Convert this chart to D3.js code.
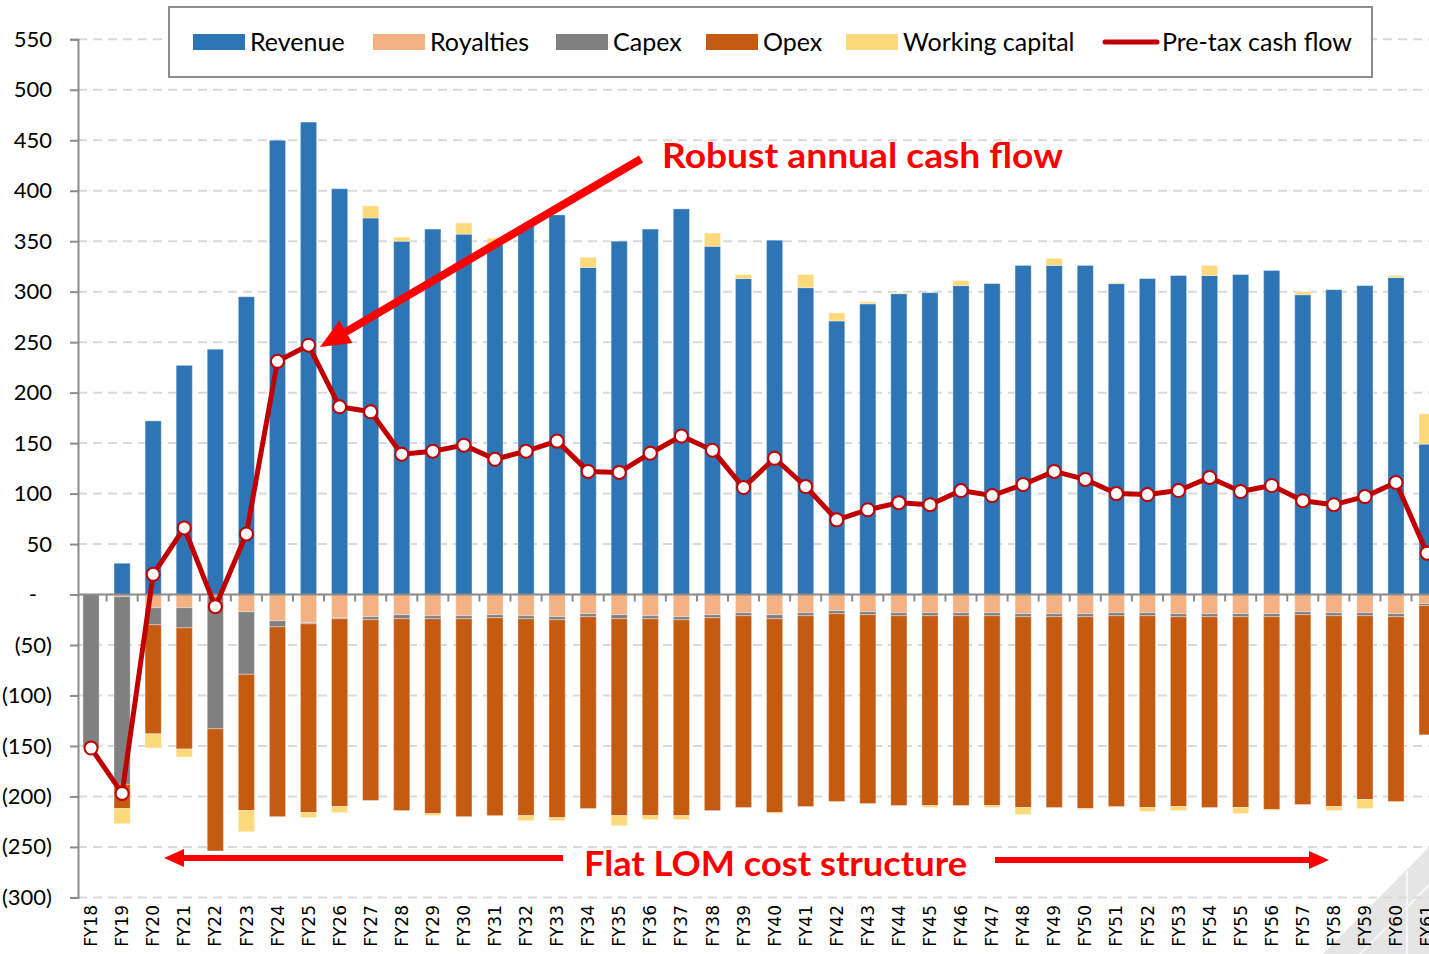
<!DOCTYPE html>
<html>
<head>
<meta charset="utf-8">
<script src="https://cdn.jsdelivr.net/npm/d3@7"></script>
<style>
  html, body { margin: 0; padding: 0; background: #fff; overflow: hidden; }
</style>
</head>
<body>
<svg id="chart" width="1429" height="954"></svg>
<script>
const years = d3.range(18, 62).map((d) => "FY" + d);

const revenue = [0, 31, 172, 227, 243, 295, 450, 468, 402, 373, 350, 362, 357, 347, 365, 376,
  324, 350, 362, 382, 345, 313, 351, 304, 271, 288, 298, 299, 306, 308, 326, 326, 326, 308,
  313, 316, 316, 317, 321, 297, 302, 306, 314, 149];
const royalties = [0, -2, -13, -13, -2, -17, -26, -28, -23, -22, -20, -21, -21, -20, -21, -22,
  -19, -20, -21, -22, -20, -18, -20, -18, -16, -17, -18, -18, -18, -18, -19, -19, -19, -18,
  -18, -19, -19, -19, -19, -17, -18, -18, -19, -9];
const capex = [-152, -186, -17, -20, -131, -62, -6, -1, -1, -3, -4, -3, -3, -3, -3, -3,
  -3, -4, -3, -3, -3, -3, -4, -3, -3, -3, -3, -3, -3, -3, -3, -3, -3, -3,
  -3, -3, -3, -3, -3, -3, -3, -3, -3, -2];
const opex = [0, -24, -108, -120, -121, -135, -188, -187, -186, -179, -190, -193, -196, -196, -195, -196,
  -190, -195, -195, -194, -191, -190, -192, -189, -186, -187, -188, -188, -188, -188, -189, -189, -190, -189,
  -190, -188, -189, -189, -191, -188, -189, -182, -183, -128];
const workingCapital = [0, -15, -14, -8, 0, -21, 0, -5, -6, 12, 4, -2, 11, 6, -5, -3,
  10, -10, -4, -4, 13, 4, -1, 13, 8, 2, 1, -2, 5, -2, -7, 7, -1, 1,
  -4, -4, 10, -6, -1, 3, -4, -9, 2, 30];
const cashFlow = [-152, -197, 20, 66, -12, 60, 231, 247, 186, 181, 139, 142, 148, 134, 142, 152,
  122, 121, 140, 157, 143, 106, 135, 107, 74, 84, 91, 89, 103, 98, 109, 122, 114, 100,
  99, 103, 116, 102, 108, 93, 89, 97, 111, 41];
const yTicks = d3.range(-300, 551, 50);

const series = [
  { key: "revenue", label: "Revenue", color: "#2E75B6", values: revenue },
  { key: "royalties", label: "Royalties", color: "#F4B183", values: royalties },
  { key: "capex", label: "Capex", color: "#808080", values: capex },
  { key: "opex", label: "Opex", color: "#C55A11", values: opex },
  { key: "wc", label: "Working capital", color: "#FCD97A", values: workingCapital }
];

const rows = years.map((yr, i) => {
  const r = { year: yr };
  series.forEach((s) => (r[s.key] = s.values[i]));
  return r;
});

const svg = d3.select("#chart");
const axisColor = "#8c8c8c";
const calibri = "Lato, 'Open Sans', sans-serif";

const x = d3.scaleBand()
  .domain(years)
  .range([75.5, 1442.6])
  .paddingInner(0.48)
  .paddingOuter(0.24);
const step = x.step();
const y = d3.scaleLinear().domain([-300, 550]).range([897.4, 39.3]);

// watermark corner (under everything)
svg.append("path")
  .attr("d", "M1323,954L1429,847L1429,954Z")
  .attr("fill", "#d4d4d4")
  .attr("opacity", 0.6);
svg.append("path")
  .attr("d", "M1360,954L1429,885M1407,870L1407,954")
  .attr("stroke", "#fff")
  .attr("stroke-width", 2)
  .attr("opacity", 0.7);

// gridlines
svg.append("g")
  .selectAll("line")
  .data(yTicks)
  .join("line")
  .attr("x1", 78)
  .attr("x2", 1429)
  .attr("y1", (d) => y(d))
  .attr("y2", (d) => y(d))
  .attr("stroke", "#d9d9d9")
  .attr("stroke-width", 2)
  .attr("stroke-dasharray", "9,6");

// y axis
const yAxis = d3.axisLeft(y)
  .tickValues(yTicks)
  .tickSize(8)
  .tickPadding(18)
  .tickFormat((d) => (d === 0 ? "-" : d < 0 ? "(" + Math.abs(d) + ")" : d));
const gy = svg.append("g").attr("transform", "translate(78,0)").call(yAxis);
gy.select(".domain").attr("stroke", axisColor).attr("stroke-width", 2);
gy.selectAll(".tick line").attr("stroke", axisColor).attr("stroke-width", 2);
gy.selectAll(".tick text")
  .attr("font-family", calibri)
  .attr("font-size", 22)
  .attr("fill", "#000");
gy.selectAll(".tick text").filter((d) => d === 0).attr("dx", -15);

// stacked bars
const stack = d3.stack()
  .keys(series.map((s) => s.key))
  .offset(d3.stackOffsetDiverging);
const layers = stack(rows);

svg.append("g")
  .selectAll("g")
  .data(layers)
  .join("g")
  .attr("fill", (d, i) => series[i].color)
  .selectAll("rect")
  .data((d) => d)
  .join("rect")
  .attr("x", (d) => x(d.data.year))
  .attr("width", x.bandwidth())
  .attr("y", (d) => y(Math.max(d[0], d[1])))
  .attr("height", (d) => Math.abs(y(d[0]) - y(d[1])))
  .attr("stroke", "rgba(255,255,255,0.35)")
  .attr("stroke-width", 1);

// zero axis with category ticks
const zeroY = y(0);
svg.append("line")
  .attr("x1", 78).attr("x2", 1429)
  .attr("y1", zeroY).attr("y2", zeroY)
  .attr("stroke", axisColor).attr("stroke-width", 2);
svg.append("g")
  .selectAll("line")
  .data(years.slice(1))
  .join("line")
  .attr("x1", (d) => x(d) - (step - x.bandwidth()) / 2)
  .attr("x2", (d) => x(d) - (step - x.bandwidth()) / 2)
  .attr("y1", zeroY)
  .attr("y2", zeroY + 7)
  .attr("stroke", axisColor)
  .attr("stroke-width", 2);

// x labels (rotated)
svg.append("g")
  .selectAll("text")
  .data(years)
  .join("text")
  .attr("transform", (d) => `translate(${x(d) + x.bandwidth() / 2},905) rotate(-90)`)
  .attr("text-anchor", "end")
  .attr("dy", "0.36em")
  .attr("font-family", "'DejaVu Sans', sans-serif")
  .attr("font-size", 17)
  .attr("fill", "#000")
  .text((d) => d);

// cash flow line
const line = d3.line()
  .x((d, i) => x(years[i]) + x.bandwidth() / 2)
  .y((d) => y(d));
svg.append("path")
  .datum(cashFlow)
  .attr("d", line)
  .attr("fill", "none")
  .attr("stroke", "#C00000")
  .attr("stroke-width", 5)
  .attr("stroke-linejoin", "round");
svg.append("g")
  .selectAll("circle")
  .data(cashFlow)
  .join("circle")
  .attr("cx", (d, i) => x(years[i]) + x.bandwidth() / 2)
  .attr("cy", (d) => y(d))
  .attr("r", 6.5)
  .attr("fill", "#fff")
  .attr("stroke", "#C00000")
  .attr("stroke-width", 2);

// annotations
const red = "#FF0000";
function arrow(x1, y1, x2, y2, width, headLen, headWidth) {
  const ang = Math.atan2(y2 - y1, x2 - x1);
  const bx = x2 - headLen * Math.cos(ang);
  const by = y2 - headLen * Math.sin(ang);
  svg.append("line")
    .attr("x1", x1).attr("y1", y1).attr("x2", bx).attr("y2", by)
    .attr("stroke", red).attr("stroke-width", width);
  const px = Math.sin(ang) * headWidth / 2;
  const py = -Math.cos(ang) * headWidth / 2;
  svg.append("path")
    .attr("d", `M${x2},${y2}L${bx + px},${by + py}L${bx - px},${by - py}Z`)
    .attr("fill", red);
}
arrow(641, 159, 320, 347, 8, 30, 26);
arrow(563, 858, 164, 858, 6, 20, 18);
arrow(995, 860, 1329, 860, 6, 20, 18);

svg.append("text")
  .attr("x", 662).attr("y", 168)
  .attr("font-family", calibri)
  .attr("font-weight", "bold")
  .attr("font-size", 35)
  .attr("fill", red)
  .attr("textLength", 401)
  .attr("lengthAdjust", "spacingAndGlyphs")
  .text("Robust annual cash flow");
svg.append("text")
  .attr("x", 584).attr("y", 876)
  .attr("font-family", calibri)
  .attr("font-weight", "bold")
  .attr("font-size", 35)
  .attr("fill", red)
  .attr("textLength", 383)
  .attr("lengthAdjust", "spacingAndGlyphs")
  .text("Flat LOM cost structure");

// legend
const legend = svg.append("g");
legend.append("rect")
  .attr("x", 169).attr("y", 7)
  .attr("width", 1203).attr("height", 70)
  .attr("fill", "#fff")
  .attr("stroke", axisColor)
  .attr("stroke-width", 2);
const legendX = [193, 373, 556, 706, 846];
series.forEach((s, i) => {
  legend.append("rect")
    .attr("x", legendX[i]).attr("y", 34)
    .attr("width", 52).attr("height", 16)
    .attr("fill", s.color);
  legend.append("text")
    .attr("x", legendX[i] + 57).attr("y", 51)
    .attr("font-family", calibri)
    .attr("font-size", 25)
    .attr("fill", "#000")
    .text(s.label);
});
legend.append("line")
  .attr("x1", 1105).attr("x2", 1157)
  .attr("y1", 42).attr("y2", 42)
  .attr("stroke", "#C00000")
  .attr("stroke-width", 5)
  .attr("stroke-linecap", "round");
legend.append("text")
  .attr("x", 1162).attr("y", 51)
  .attr("font-family", calibri)
  .attr("font-size", 25)
  .attr("fill", "#000")
  .text("Pre-tax cash flow");
</script>
</body>
</html>
